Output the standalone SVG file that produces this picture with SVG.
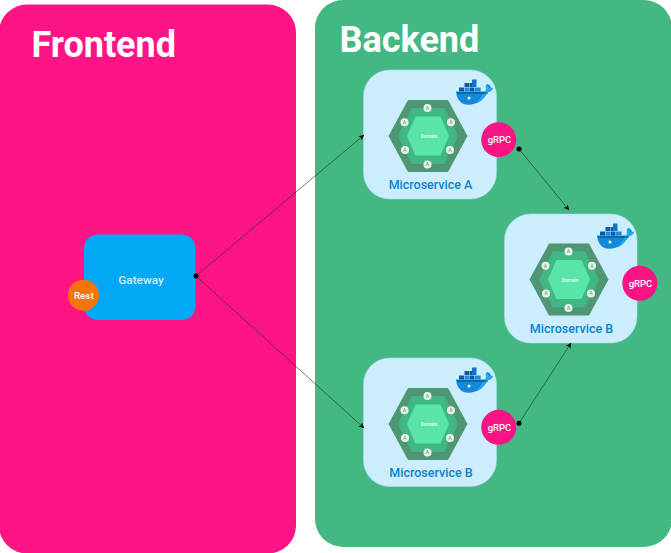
<svg xmlns="http://www.w3.org/2000/svg" xmlns:xlink="http://www.w3.org/1999/xlink" width="671" height="553" viewBox="0 0 671 553">
<style>
text{font-family:Roboto,"Liberation Sans",sans-serif;text-anchor:middle}
.title{font-size:36px;font-weight:700;fill:#fff;text-anchor:start}
.card{fill:#cbedfe;stroke:#a9dcea;stroke-width:.6}
.svc{font-size:12.500px;font-weight:500;fill:#0a83d1}
.grpc{fill:#fb1385}
.g{font-size:9.500px;font-weight:500;fill:#fff}
.dom{font-size:4.800px;font-weight:500;fill:#eefbf4}
.port{fill:#e9f2e9}
.a{font-size:5px;font-weight:400;fill:#3f9a6e}
.link{fill:none;stroke:#1a2a22;stroke-width:.6;marker-end:url(#arr)}
.dot{fill:#000}
</style>
<defs>
<marker id="arr" viewBox="0 0 10 10" refX="9.500" refY="5" markerWidth="5.500" markerHeight="5.500" markerUnits="userSpaceOnUse" orient="auto"><path d="M0 0L10 5L0 10L2.500 5Z" fill="#111"/></marker>
<g id="hex">
<polygon points="-39.500,0 -20,-36 20,-36 39.500,0 20,36 -20,36" fill="#4f9673"/>
<polygon points="-30,0 -16,-28 16,-28 30,0 16,28 -16,28" fill="#41b884"/>
<polygon points="-21,0 -12.500,-19.500 12.500,-19.500 21,0 12.500,19.500 -12.500,19.500" fill="#5ae5a8"/>
</g>
<g id="whale">
<path d="M0 12H30C30.800 9.500 30.200 7.500 29.500 6L32 4.500C33.800 5.700 34.800 7.200 35 8.500C36 8.200 36.500 8.300 37 8.700C35.800 11.300 33.500 12.500 31.500 12.600C28 20 21 25.300 12 25.300C4.500 25.300 .500 19 0 12Z" fill="#0f8adb"/>
<path d="M20 24C26 22 30 17 31.500 12.600C33.500 12.500 35.800 11.300 37 8.700C36 8.200 34.500 8.300 33 9C32.500 7.500 32 6 30 5C30 8 30 10 29 13Z" fill="#22a9ee"/>
<path d="M1 13.500H32" stroke="#0b3f78" stroke-width=".9" fill="none"/>
<circle cx="13" cy="18.500" r="1.500" fill="#fff"/>
<path d="M3 8H8V12H3ZM13.500 8H18.500V12H13.500ZM24 8H24.500V12H24Z" fill="#0c5aa6"/>
<path d="M8.500 8H13V12H8.500ZM19 8H24V12H19Z" fill="#1a8edb"/>
<path d="M8.500 3.500H13.500V7.500H8.500ZM14 3.500H19V7.500H14Z" fill="#0c5aa6"/>
<path d="M16 0H20.500V7.500H16Z" fill="#1273c4"/>
</g>
</defs>
<rect id="frontend-panel" x="-1" y="4.500" width="297" height="549" rx="28" fill="#fe1484"/>
<rect id="backend-panel" x="315" y="0" width="357" height="547" rx="28" fill="#43b883"/>
<text class="title" x="31.500" y="57">Frontend</text>
<text class="title" x="339.500" y="52">Backend</text>
<g id="gateway">
<rect x="84" y="234.500" width="111.500" height="85.500" rx="14" fill="#03a8f4"/>
<text x="141" y="284" font-size="11.800" font-weight="500" fill="#d9eefa">Gateway</text>
</g>
<g id="rest">
<circle cx="83.500" cy="295.300" r="15.500" fill="#f6740b"/>
<text x="83.800" y="298.500" font-size="9.800" font-weight="500" fill="#fff">Rest</text>
</g>
<g id="microservice-a">
<rect class="card" x="363.500" y="70" width="133" height="129" rx="26"/>
<use xlink:href="#hex" href="#hex" x="428" y="136"/>
<text class="dom" x="429" y="138">Domain</text>
<g class="port"><circle cx="427.500" cy="108" r="4"/><circle cx="404.500" cy="122.300" r="4"/><circle cx="451" cy="122.300" r="4"/><circle cx="405" cy="150" r="4"/><circle cx="450" cy="150" r="4"/><circle cx="427.500" cy="164.500" r="4"/></g>
<text class="a" x="427.500" y="109.800">A</text><text class="a" x="404.500" y="124.100">A</text><text class="a" x="451" y="124.100">A</text><text class="a" x="405" y="151.800">A</text><text class="a" x="450" y="151.800">A</text><text class="a" x="427.500" y="166.300">A</text>
<use xlink:href="#whale" href="#whale" x="456" y="79.500"/>
<text class="svc" x="430.500" y="189">Microservice A</text>
</g>
<g id="grpc-a"><circle class="grpc" cx="498.700" cy="139.700" r="17.500"/><text class="g" x="499.500" y="143.300">gRPC</text></g>
<g id="microservice-b-right">
<rect class="card" x="504.500" y="214" width="132.500" height="129" rx="26"/>
<use xlink:href="#hex" href="#hex" x="569" y="279.500"/>
<text class="dom" x="570" y="281.500">Domain</text>
<g class="port"><circle cx="568.500" cy="251.500" r="4"/><circle cx="545.500" cy="265.800" r="4"/><circle cx="592" cy="265.800" r="4"/><circle cx="546" cy="293.500" r="4"/><circle cx="591" cy="293.500" r="4"/><circle cx="568.500" cy="308" r="4"/></g>
<text class="a" x="568.500" y="253.300">A</text><text class="a" x="545.500" y="267.600">A</text><text class="a" x="592" y="267.600">A</text><text class="a" x="546" y="295.300">A</text><text class="a" x="591" y="295.300">A</text><text class="a" x="568.500" y="309.800">A</text>
<use xlink:href="#whale" href="#whale" x="597" y="223.500"/>
<text class="svc" x="571.500" y="333">Microservice B</text>
</g>
<g id="grpc-b"><circle class="grpc" cx="639.800" cy="283.300" r="17.500"/><text class="g" x="640.500" y="287">gRPC</text></g>
<g id="microservice-b-bottom">
<rect class="card" x="363.500" y="358" width="133" height="128.500" rx="26"/>
<use xlink:href="#hex" href="#hex" x="428" y="424"/>
<text class="dom" x="429" y="426">Domain</text>
<g class="port"><circle cx="427.500" cy="396" r="4"/><circle cx="404.500" cy="410.300" r="4"/><circle cx="451" cy="410.300" r="4"/><circle cx="405" cy="438" r="4"/><circle cx="450" cy="438" r="4"/><circle cx="427.500" cy="452.500" r="4"/></g>
<text class="a" x="427.500" y="397.800">A</text><text class="a" x="404.500" y="412.100">A</text><text class="a" x="451" y="412.100">A</text><text class="a" x="405" y="439.800">A</text><text class="a" x="450" y="439.800">A</text><text class="a" x="427.500" y="454.300">A</text>
<use xlink:href="#whale" href="#whale" x="456" y="367.500"/>
<text class="svc" x="431" y="477">Microservice B</text>
</g>
<g id="grpc-c"><circle class="grpc" cx="498.700" cy="427.300" r="17.500"/><text class="g" x="499.500" y="431">gRPC</text></g>
<g id="connectors">
<path class="link" d="M196 276L364 135"/>
<path class="link" d="M196 276L364 428"/>
<path class="link" d="M519 149L569 210"/>
<path class="link" d="M519 423.300L571 343"/>
<circle class="dot" cx="196" cy="276" r="2.500"/>
<circle class="dot" cx="519" cy="149" r="2.500"/>
<circle class="dot" cx="519" cy="423.300" r="2.500"/>
</g>
</svg>
